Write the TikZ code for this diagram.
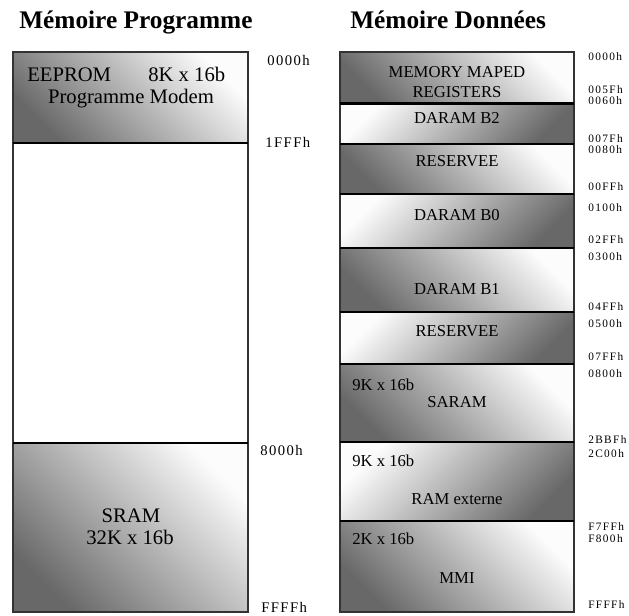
\documentclass[tikz,border=0pt]{standalone}
\usepackage{fontspec}
\setmainfont{Liberation Serif}
\newfontfamily\addrfont[LetterSpace=10]{Liberation Serif}
\newfontfamily\addrfontwide[LetterSpace=12]{Liberation Serif}
\definecolor{shadelight}{RGB}{252,252,252}
\definecolor{shadedark}{RGB}{104,104,104}

\begin{document}
\begin{tikzpicture}[x=0.75pt,y=-0.75pt,
  title/.style={font=\fontsize{19}{21}\selectfont\bfseries, anchor=base west, inner sep=0},
  addrR/.style={font=\addrfontwide\fontsize{8.5}{9}\selectfont, anchor=base west, inner sep=0},
  addrL/.style={font=\addrfont\fontsize{11}{13}\selectfont, anchor=base west, inner sep=0},
  bigtxt/.style={font=\fontsize{15.5}{18}\selectfont, anchor=base, inner sep=0},
  lbl/.style={font=\fontsize{12.5}{14}\selectfont, anchor=base, inner sep=0},
  lblw/.style={lbl, anchor=base west},
  darkBL/.style={top color=shadelight, bottom color=shadedark, shading angle=-45},
  darkBR/.style={top color=shadelight, bottom color=shadedark, shading angle=45},
  frame/.style={draw=black!80, line width=1.1pt},
  divider/.style={draw=black, line width=2pt},
]
\useasboundingbox (0,0) rectangle (629,615);

% ---------- titles ----------
\node[title] (tprog) at (19,28) {Mémoire Programme};
\node[title] (tdata) at (350,28) {Mémoire Données};

% ---------- program memory ----------
\shade[darkBL] (13,52) rectangle (248,143);
\fill[white] (13,143) rectangle (248,443);
\shade[darkBL] (13,443) rectangle (248,612);
\draw[frame] (13,52) rectangle (248,612);
\draw[divider] (13,143) -- (248,143);
\draw[divider] (13,443) -- (248,443);

\node[bigtxt, anchor=base west] (eeprom) at (27,81) {EEPROM};
\node[bigtxt, anchor=base west] (eesize) at (148,81) {8K x 16b};
\node[bigtxt] (modem) at (131,103) {Programme Modem};
\node[bigtxt] (sram) at (131,522) {SRAM};
\node[bigtxt] (sramsize) at (130,544) {32K x 16b};

\node[addrL] (p0000) at (267,65) {0000h};
\node[addrL] (p1FFF) at (265,147) {1FFFh};
\node[addrL] (p8000) at (260,455) {8000h};
\node[addrL] (pFFFF) at (261,612) {FFFFh};

% ---------- data memory ----------
\shade[darkBL] (340,52)  rectangle (574,103.5);
\shade[darkBR] (340,103.5) rectangle (574,144);
\shade[darkBL] (340,144) rectangle (574,194);
\shade[darkBR] (340,194) rectangle (574,248);
\shade[darkBL] (340,248) rectangle (574,312);
\shade[darkBR] (340,312) rectangle (574,364);
\shade[darkBL] (340,364) rectangle (574,442);
\shade[darkBR] (340,442) rectangle (574,521);
\shade[darkBL] (340,521) rectangle (574,612);
\draw[frame] (340,52) rectangle (574,612);
\foreach \yy in {103.5,144,194,248,312,364,442,521}
  \draw[divider] (340,\yy) -- (574,\yy);

\node[lbl] (mmr1) at (457,77) {MEMORY MAPED};
\node[lbl] (mmr2) at (457,97) {REGISTERS};
\node[lbl] (b2) at (457,123) {DARAM B2};
\node[lbl] (res1) at (457,166) {RESERVEE};
\node[lbl] (b0) at (457,220) {DARAM B0};
\node[lbl] (b1) at (457,294) {DARAM B1};
\node[lbl] (res2) at (457,336) {RESERVEE};
\node[lblw] (sarsz) at (352,390) {9K x 16b};
\node[lbl] (saram) at (457,407) {SARAM};
\node[lblw] (extsz) at (352,466) {9K x 16b};
\node[lbl] (ramext) at (457,504) {RAM externe};
\node[lblw] (mmisz) at (352,544) {2K x 16b};
\node[lbl] (mmi) at (457,583) {MMI};

\node[addrR] (d0000) at (588,60)  {0000h};
\node[addrR] (d005F) at (588,93)  {005Fh};
\node[addrR] (d0060) at (588,104) {0060h};
\node[addrR] (d007F) at (588,142) {007Fh};
\node[addrR] (d0080) at (588,153) {0080h};
\node[addrR] (d00FF) at (588,190) {00FFh};
\node[addrR] (d0100) at (588,211) {0100h};
\node[addrR] (d02FF) at (588,243) {02FFh};
\node[addrR] (d0300) at (588,260) {0300h};
\node[addrR] (d04FF) at (588,310) {04FFh};
\node[addrR] (d0500) at (588,327) {0500h};
\node[addrR] (d07FF) at (588,360) {07FFh};
\node[addrR] (d0800) at (588,377) {0800h};
\node[addrR] (d2BBF) at (588,443) {2BBFh};
\node[addrR] (d2C00) at (588,457) {2C00h};
\node[addrR] (dF7FF) at (588,530) {F7FFh};
\node[addrR] (dF800) at (588,542) {F800h};
\node[addrR] (dFFFF) at (588,608) {FFFFh};
\end{tikzpicture}
\end{document}
